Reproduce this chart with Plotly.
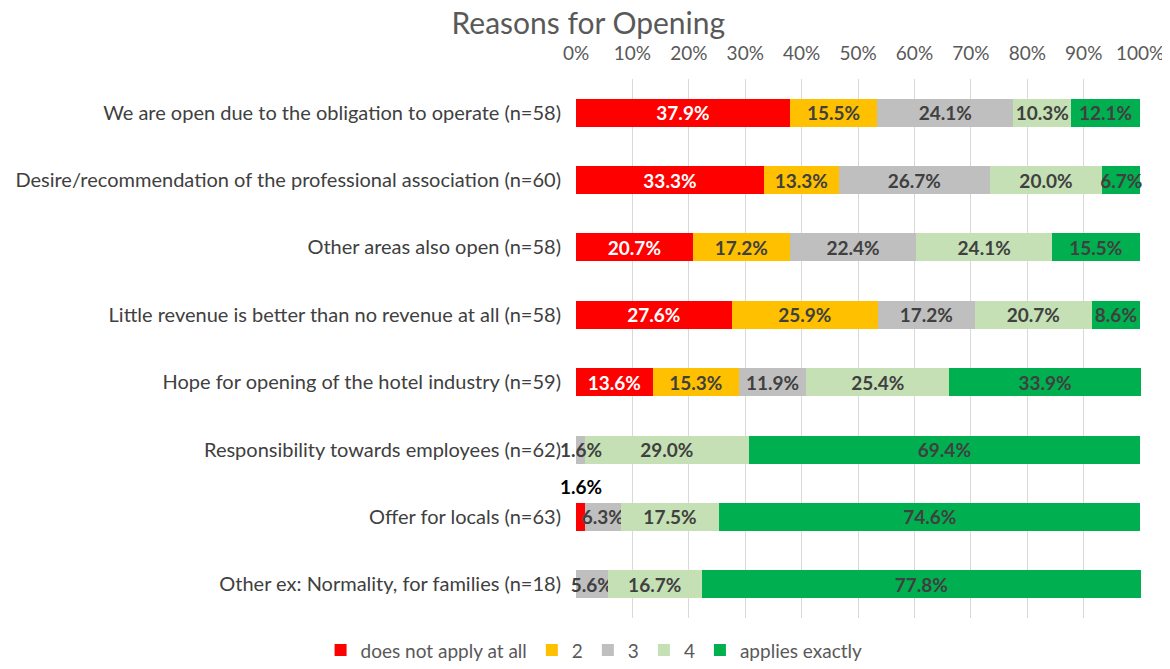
import plotly.graph_objects as go

# reasons, top to bottom as in the chart
reasons = [
    "We are open due to the obligation to operate (n=58)",
    "Desire/recommendation of the professional association (n=60)",
    "Other areas also open (n=58)",
    "Little revenue is better than no revenue at all (n=58)",
    "Hope for opening of the hotel industry (n=59)",
    "Responsibility towards employees (n=62)",
    "Offer for locals (n=63)",
    "Other ex: Normality, for families (n=18)",
]

# shares in percent per answer category (0 = not given)
not_at_all = [37.9, 33.3, 20.7, 27.6, 13.6, 0, 1.6, 0]
level_2 = [15.5, 13.3, 17.2, 25.9, 15.3, 0, 0, 0]
level_3 = [24.1, 26.7, 22.4, 17.2, 11.9, 1.6, 6.3, 5.6]
level_4 = [10.3, 20.0, 24.1, 20.7, 25.4, 29.0, 17.5, 16.7]
exactly = [12.1, 6.7, 15.5, 8.6, 33.9, 69.4, 74.6, 77.8]

# x axis ticks
tick_vals = [0, 10, 20, 30, 40, 50, 60, 70, 80, 90, 100]
tick_text = [f"{t}%" for t in tick_vals]

series = [
    ("does not apply at all", not_at_all, "#FF0000", "white"),
    ("2", level_2, "#FFC000", "#404040"),
    ("3", level_3, "#BFBFBF", "#404040"),
    ("4", level_4, "#C5E0B4", "#404040"),
    ("applies exactly", exactly, "#00B050", "#404040"),
]

FONT = "Lato"
SMALL = 3  # shares below this get a free-standing label

fig = go.Figure()
base = [0.0] * len(reasons)
for name, vals, color, txtcol in series:
    labels = []
    for i, v in enumerate(vals):
        if v == 0 or v < SMALL:
            labels.append("")
        else:
            labels.append(f"{v:.1f}%")
        if 0 < v < SMALL:
            # thin segments: label drawn on top of everything
            red = name == "does not apply at all"
            fig.add_annotation(
                x=base[i] + v / 2, y=reasons[i], text=f"<b>{v:.1f}%</b>",
                showarrow=False, yshift=30 if red else 0,
                font=dict(family=FONT, size=19, color="black" if red else "#404040"),
            )
        base[i] += v
    fig.add_trace(go.Bar(
        y=reasons,
        x=[v if v > 0 else None for v in vals],
        name=name,
        orientation="h",
        marker=dict(color=color, line=dict(width=0)),
        text=labels,
        textposition="inside",
        insidetextanchor="middle",
        textangle=0,
        constraintext="none",
        cliponaxis=False,
        textfont=dict(family=FONT, size=19, color=txtcol, weight="bold"),
        hoverinfo="skip",
    ))

fig.update_layout(
    width=1170,
    height=669,
    barmode="stack",
    bargap=0.585,
    plot_bgcolor="white",
    paper_bgcolor="white",
    margin=dict(l=568, r=37, t=71, b=59),
    font=dict(family=FONT, color="#404040"),
    title=dict(
        text="Reasons for Opening",
        x=0.496, xanchor="center", xref="container",
        y=0.993, yanchor="top", yref="container",
        font=dict(family=FONT, size=30, color="#595959"),
    ),
    legend=dict(
        orientation="h",
        x=0.032, xanchor="center",
        y=0.04, yref="container", yanchor="middle",
        font=dict(family=FONT, size=19, color="#595959"),
        traceorder="normal",
    ),
    showlegend=True,
)

fig.update_xaxes(
    side="top",
    range=[0, 100.15],
    tickvals=tick_vals,
    ticktext=tick_text,
    showgrid=True,
    gridcolor="#D9D9D9",
    gridwidth=1,
    zeroline=False,
    showline=False,
    automargin=False,
    ticklabelstandoff=14,
    tickfont=dict(family=FONT, size=19, color="#595959"),
)
fig.update_yaxes(
    autorange="reversed",
    showgrid=False,
    showline=False,
    automargin=False,
    ticklabelstandoff=14,
    tickfont=dict(family=FONT, size=20, color="#404040"),
)

fig.write_html("out.html")
